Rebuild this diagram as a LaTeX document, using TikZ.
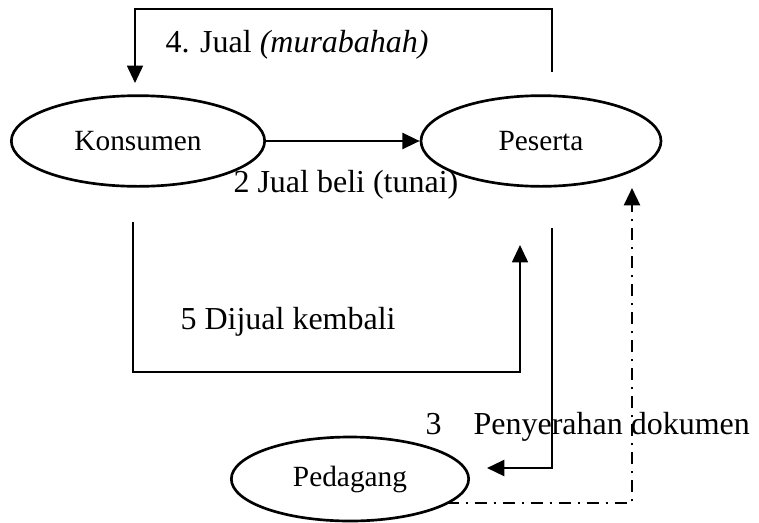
\documentclass[tikz,border=0pt]{standalone}
\usepackage{fontspec}
\setmainfont{Liberation Serif}
\usetikzlibrary{arrows.meta,shapes.geometric}
\tikzset{
  pihak/.style={draw,ellipse,line width=1pt,inner sep=0pt,font=\fontsize{11}{13}\selectfont},
  alur/.style={line width=0.9pt},
  alurtipis/.style={line width=0.6pt},
  titiktitik/.style={line width=0.9pt,dash pattern=on 4.5pt off 2.5pt on 1pt off 2.5pt},
  ket/.style={anchor=west,inner sep=0pt,font=\fontsize{12}{14}\selectfont},
}
\begin{document}
\begin{tikzpicture}[x=0.375pt,y=-0.375pt,>={Triangle[length=6.5pt,width=6pt]}]
\useasboundingbox (0,0) rectangle (759,522);
% pihak-pihak
\node[pihak,minimum width=95pt,minimum height=34pt] (konsumen) at (138,141) {Konsumen};
\node[pihak,minimum width=90pt,minimum height=34pt] (peserta) at (541,141) {Peserta};
\node[pihak,minimum width=89pt,minimum height=31.5pt] (pedagang) at (350,479) {Pedagang};
% ujung-ujung alur
\coordinate (jualA) at (552,72);
\coordinate (jualB) at (135,83);
\coordinate (kembaliA) at (133,222);
\coordinate (kembaliB) at (520,245);
\coordinate (dokA) at (552,228);
\coordinate (dokB) at (487,468);
\coordinate (balikA) at (447,503);
\coordinate (balikB) at (632,188);
% alur
\draw[alurtipis,->] (jualA) -- (jualA |- 0,9) -| (jualB);
\draw[alur,->] (konsumen.east) -- (peserta.west);
\draw[alurtipis,->] (kembaliA) -- (kembaliA |- 0,372) -| (kembaliB);
\draw[alur,->] (dokA) |- (dokB);
\draw[titiktitik,->] (balikA) -| (balikB);
% keterangan
\node[ket] (ket4) at (165,45) {4. Jual \textit{(murabahah)}};
\node[ket] (ket2) at (233,185) {2 Jual beli (tunai)};
\node[ket] (ket5) at (180,322) {5 Dijual kembali};
\node[ket] (ket3) at (425,427) {3\quad Penyerahan dokumen};
\end{tikzpicture}
\end{document}
